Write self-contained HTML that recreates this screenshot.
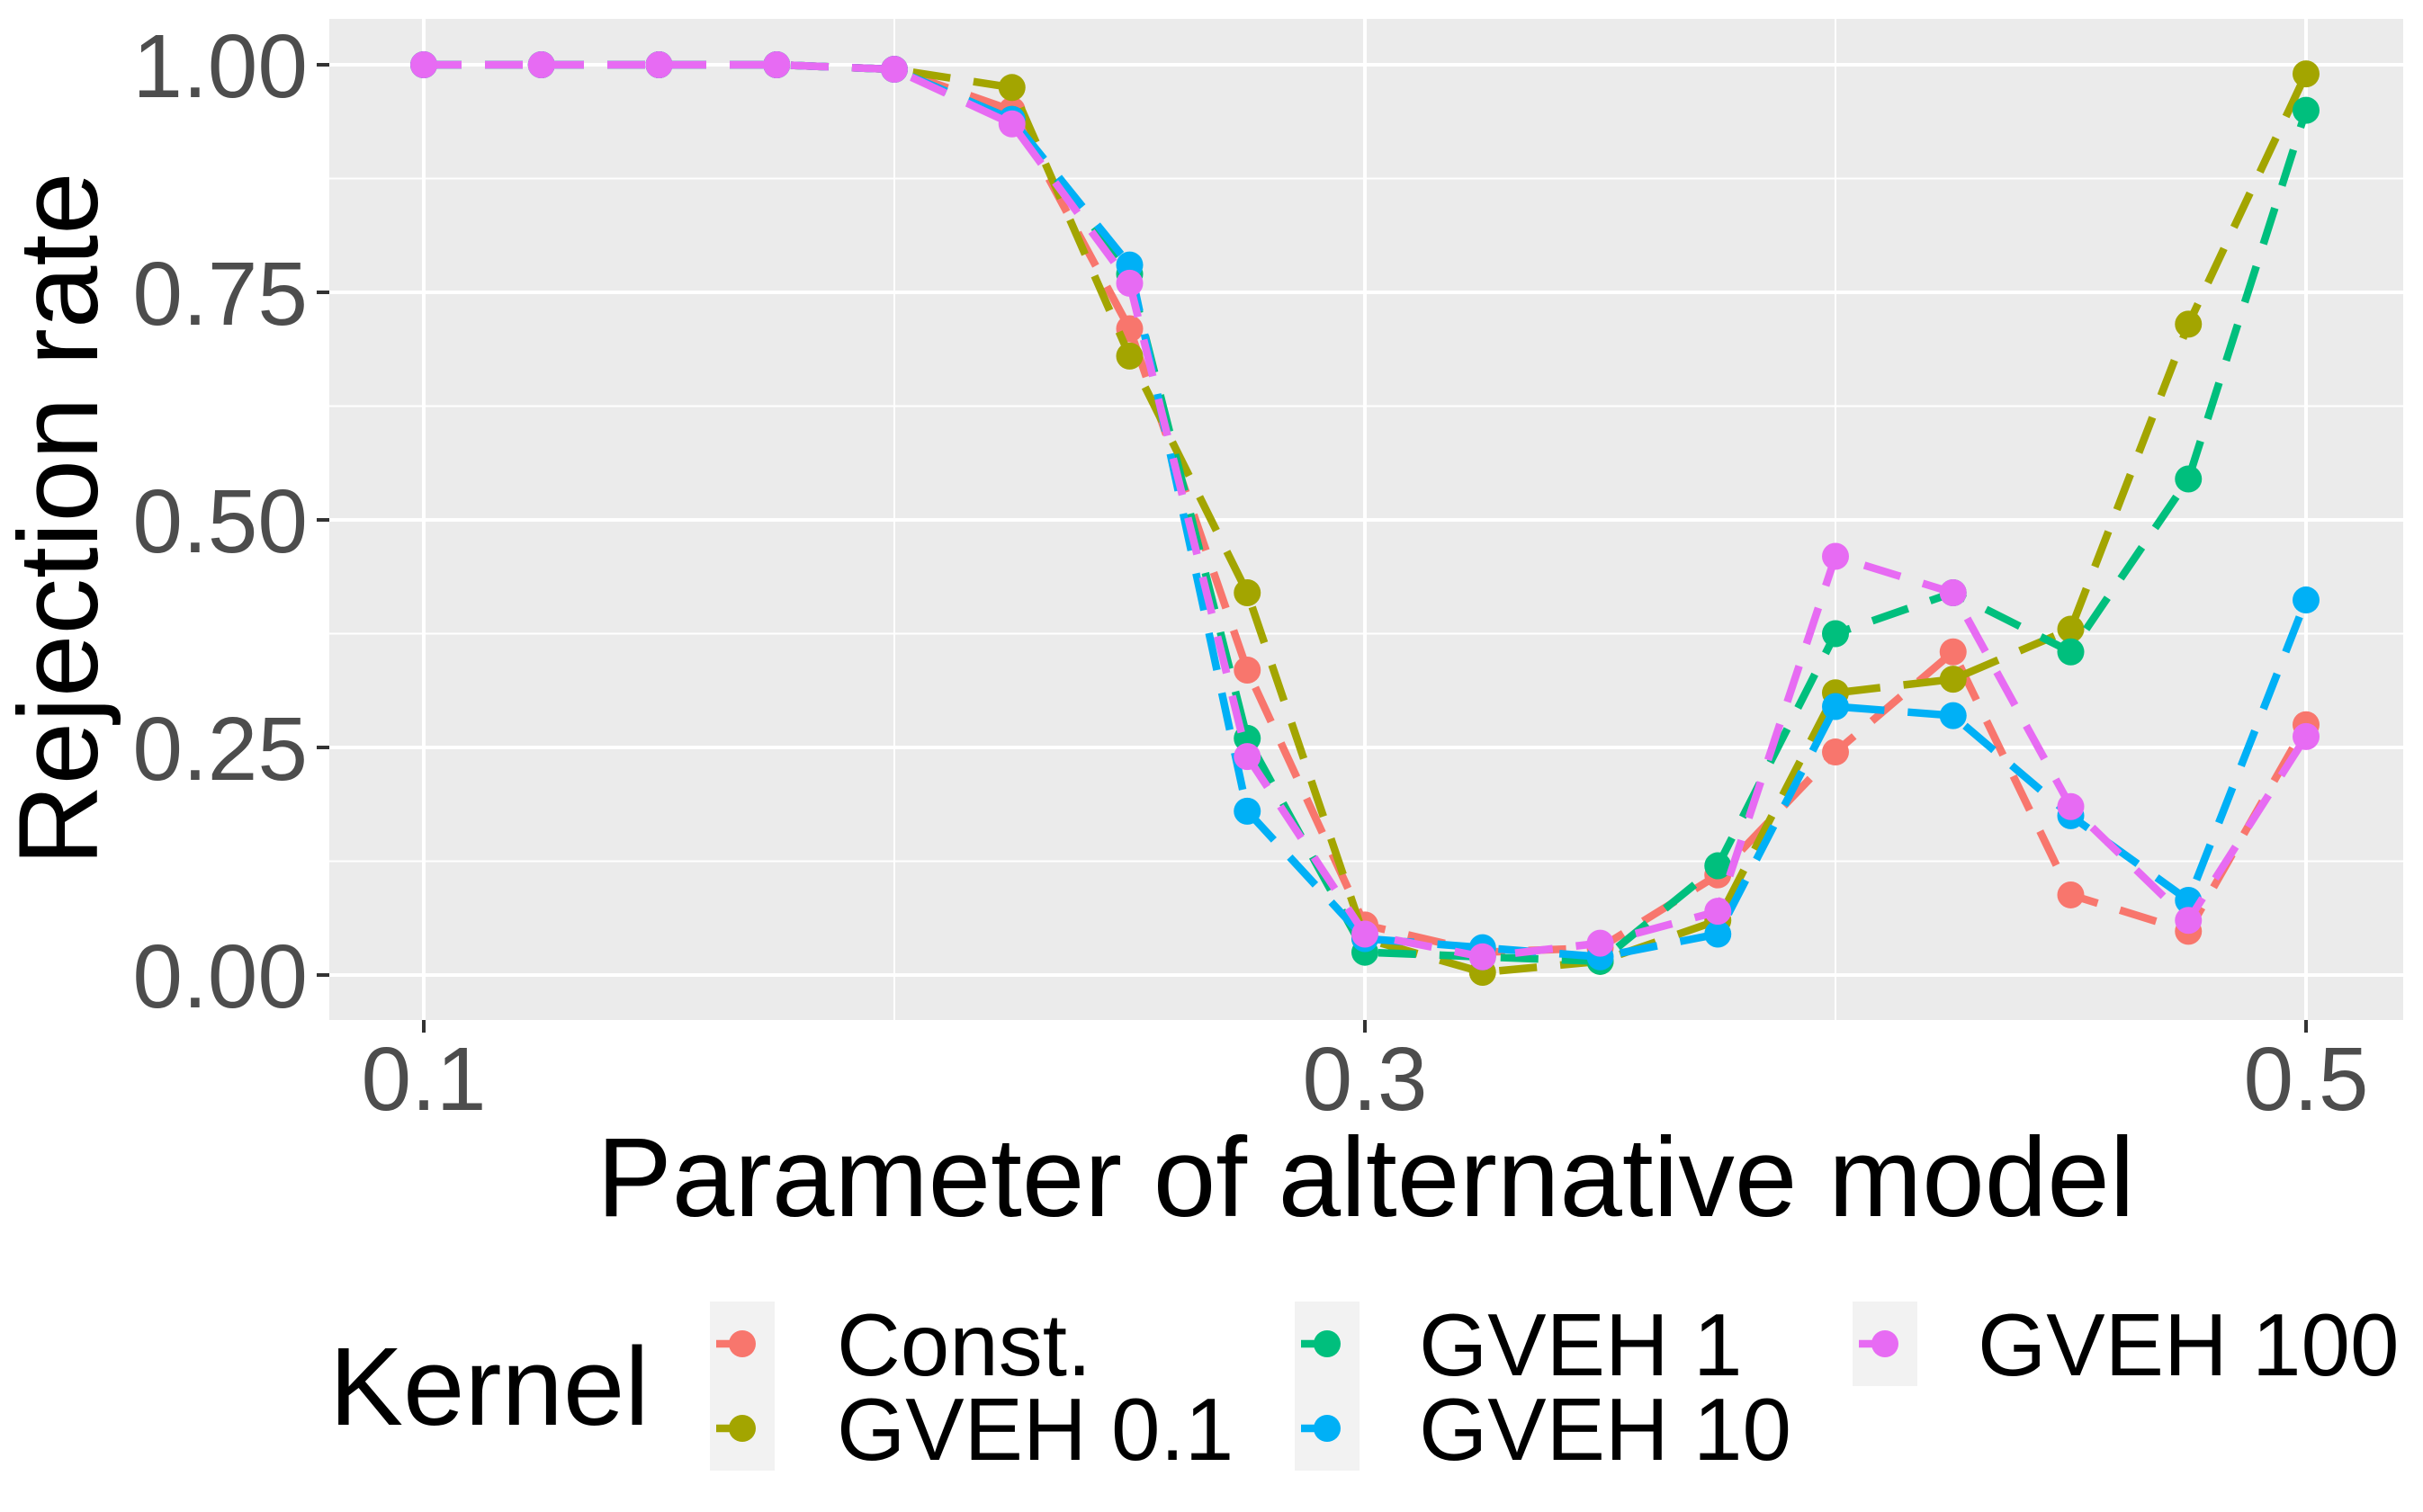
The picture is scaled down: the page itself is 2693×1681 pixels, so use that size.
<!DOCTYPE html>
<html><head><meta charset="utf-8"><style>
html,body{margin:0;padding:0;background:#fff;}
svg{display:block;font-family:"Liberation Sans",Arial,sans-serif;}
</style></head><body>
<svg id="chart" width="2693" height="1681" viewBox="0 0 2693 1681" xmlns="http://www.w3.org/2000/svg">
<rect x="366" y="21" width="2305" height="1113" fill="#ebebeb"/>
<g id="grid"></g>
<g id="series"></g>
<g id="axes"></g>
<text x="1518" y="1352" text-anchor="middle" font-size="125" fill="#000">Parameter of alternative model</text>
<text transform="translate(108,577) rotate(-90)" text-anchor="middle" font-size="125" fill="#000">Rejection rate</text>
<text x="366" y="1584" font-size="123" fill="#000">Kernel</text>
<g id="legend"></g>
</svg>
<script>
const xValues=[0.1,0.125,0.15,0.175,0.2,0.225,0.25,0.275,0.3,0.325,0.35,0.375,0.4,0.425,0.45,0.475,0.5];
const seriesNames=["Const.","GVEH 0.1","GVEH 1","GVEH 10","GVEH 100"];
const seriesColors=["#F8766D","#A3A500","#00BF7D","#00B0F6","#E76BF3"];
const constVals=[1,1,1,1,0.995,0.95,0.71,0.335,0.055,0.025,0.03,0.11,0.245,0.355,0.088,0.048,0.275];
const gveh01Vals=[1,1,1,1,0.995,0.975,0.68,0.42,0.04,0.003,0.015,0.06,0.31,0.325,0.38,0.715,0.99];
const gveh1Vals=[1,1,1,1,0.995,0.94,0.77,0.26,0.025,0.02,0.015,0.12,0.375,0.42,0.355,0.545,0.95];
const gveh10Vals=[1,1,1,1,0.995,0.94,0.78,0.18,0.04,0.03,0.02,0.045,0.295,0.285,0.175,0.082,0.412];
const gveh100Vals=[1,1,1,1,0.995,0.935,0.76,0.24,0.045,0.02,0.035,0.07,0.46,0.42,0.185,0.06,0.262];
const yTicks=[0,0.25,0.5,0.75,1];
const yTickLabels=["0.00","0.25","0.50","0.75","1.00"];
const xTicks=[0.1,0.3,0.5];
const xTickLabels=["0.1","0.3","0.5"];
const yMinor=[0.125,0.375,0.625,0.875];
const xMinor=[0.2,0.4];

const NS="http://www.w3.org/2000/svg";
const P={l:366,r:2671,t:21,b:1134};
function xs(v){return 471+(v-0.1)/0.4*(2563-471);}
function ys(v){return 1084-v*(1084-72);}
function mk(tag,attrs,parent){const e=document.createElementNS(NS,tag);for(const k in attrs)e.setAttribute(k,attrs[k]);parent.appendChild(e);return e;}
const grid=document.getElementById('grid');
yMinor.forEach(v=>{const l=mk('line',{x1:P.l,x2:P.r,y1:ys(v),y2:ys(v),stroke:'#fff','stroke-width':2},grid);

});
xMinor.forEach(v=>{const l=mk('line',{x1:xs(v),x2:xs(v),y1:P.t,y2:P.b,stroke:'#fff','stroke-width':2},grid);

});
yTicks.forEach(v=>{const l=mk('line',{x1:P.l,x2:P.r,y1:ys(v),y2:ys(v),stroke:'#fff','stroke-width':4},grid);

});
xTicks.forEach(v=>{const l=mk('line',{x1:xs(v),x2:xs(v),y1:P.t,y2:P.b,stroke:'#fff','stroke-width':4},grid);

});
const axes=document.getElementById('axes');
yTicks.forEach((v,i)=>{const t=mk('line',{x1:352,x2:366,y1:ys(v),y2:ys(v),stroke:'#333','stroke-width':4},axes);


const tx=mk('text',{x:342,y:ys(v)+36,'text-anchor':'end','font-size':100,fill:'#4d4d4d'},axes);tx.textContent=yTickLabels[i];

});
xTicks.forEach((v,i)=>{const t=mk('line',{x1:xs(v),x2:xs(v),y1:1134,y2:1148,stroke:'#333','stroke-width':4},axes);


const tx=mk('text',{x:xs(v),y:1234,'text-anchor':'middle','font-size':100,fill:'#4d4d4d'},axes);tx.textContent=xTickLabels[i];

});
const allVals=[constVals,gveh01Vals,gveh1Vals,gveh10Vals,gveh100Vals];
const sg=document.getElementById('series');
allVals.forEach((vals,si)=>{
 const g=mk('g',{},sg);
 
 
 const pts=vals.map((v,i)=>xs(xValues[i]).toFixed(1)+','+ys(v).toFixed(1)).join(' ');
 const pl=mk('polyline',{points:pts,fill:'none',stroke:seriesColors[si],'stroke-width':8.5,'stroke-dasharray':'42 26'},g);
 
 
 vals.forEach((v,i)=>{const c=mk('circle',{cx:xs(xValues[i]),cy:ys(v),r:15,fill:seriesColors[si]},g);
 
 });
});
const lg=document.getElementById('legend');
const keyPos=[[789,1447],[789,1541],[1439,1447],[1439,1541],[2059,1447]];
const textX=[930,930,1577,1577,2198];
seriesNames.forEach((n,i)=>{
 const [kx,ky]=keyPos[i];
 const g=mk('g',{},lg);
 
 
 mk('rect',{x:kx,y:ky,width:72,height:94,fill:'#f2f2f2'},g);
 mk('line',{x1:kx+7,x2:kx+40,y1:ky+47,y2:ky+47,stroke:seriesColors[i],'stroke-width':8.5},g);
 mk('circle',{cx:kx+36,cy:ky+47,r:15,fill:seriesColors[i]},g);
 const t=mk('text',{x:textX[i],y:ky+82,'font-size':98,fill:'#000'},g);t.textContent=n;
 
 
});
</script>
</body></html>
